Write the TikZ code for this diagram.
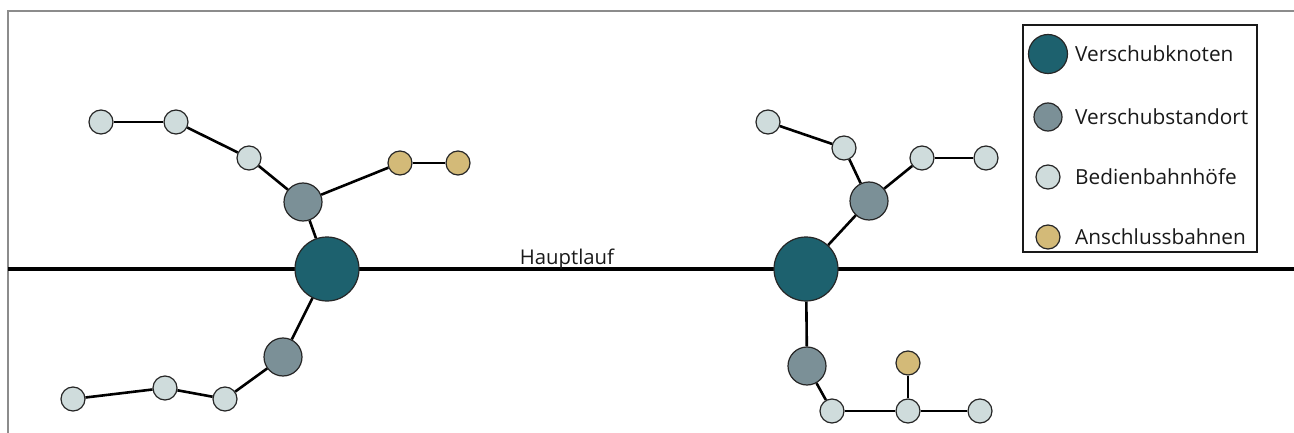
\documentclass[tikz,border=0pt]{standalone}
\usepackage{fontspec}
\setmainfont{Open Sans}
\begin{document}
\begin{tikzpicture}[x=1pt,y=-1pt,
  knoten/.style={circle,draw=black!85,line width=1.2pt,fill=tealk,minimum size=64pt,inner sep=0pt},
  standort/.style={circle,draw=black!85,line width=1.2pt,fill=grayk,minimum size=38pt,inner sep=0pt},
  bedien/.style={circle,draw=black!85,line width=1.2pt,fill=lightk,minimum size=24pt,inner sep=0pt},
  anschluss/.style={circle,draw=black!85,line width=1.2pt,fill=goldk,minimum size=24pt,inner sep=0pt},
  link/.style={line width=2.6pt,black},
  lbl/.style={anchor=west,font=\fontsize{20.8}{24}\selectfont,text=black!90,inner sep=0pt}]
\definecolor{tealk}{HTML}{1D616E}
\definecolor{grayk}{HTML}{7B9097}
\definecolor{lightk}{HTML}{CFDCDC}
\definecolor{goldk}{HTML}{D3BA78}
\useasboundingbox (0,0) rectangle (1294,433);
% frame
\draw[line width=1.8pt,black!45] (1294,11) -- (8,11) -- (8,433);
% main line
\coordinate (hl0) at (8,269);
\coordinate (hl1) at (1294,269);
\draw[line width=3.4pt] (hl0) -- (hl1);
\node[font=\fontsize{20.3}{24}\selectfont,text=black!90,anchor=base] (hauptlauf) at (567,264) {Hauptlauf};

% left cluster
\node[knoten] (k1) at (327,269) {};
\node[standort] (s1a) at (303,202) {};
\node[standort] (s1b) at (283,357) {};
\node[bedien] (b1) at (101,122) {};
\node[bedien] (b2) at (176,122) {};
\node[bedien] (b3) at (249,158) {};
\node[anschluss] (a1) at (400,163) {};
\node[anschluss] (a2) at (458,163) {};
\node[bedien] (b4) at (73,399) {};
\node[bedien] (b5) at (165,388) {};
\node[bedien] (b6) at (225,399) {};

% right cluster
\node[knoten] (k2) at (806,269) {};
\node[standort] (s2a) at (869,201) {};
\node[standort] (s2b) at (807,366) {};
\node[bedien] (c1) at (768,122) {};
\node[bedien] (c2) at (844,148) {};
\node[bedien] (c3) at (922,158) {};
\node[bedien] (c4) at (986,158) {};
\node[bedien] (c5) at (832,411) {};
\node[bedien] (c6) at (908,411) {};
\node[bedien] (c7) at (980,411) {};
\node[anschluss] (a3) at (908,363) {};

% connectors
\draw[link] (k1) -- (s1a);
\draw[link] (s1a) -- (b3);
\draw[link] (b3) -- (b2);
\draw[link] (b2) -- (b1);
\draw[link] (s1a) -- (a1);
\draw[link] (a1) -- (a2);
\draw[link] (k1) -- (s1b);
\draw[link] (s1b) -- (b6);
\draw[link] (b6) -- (b5);
\draw[link] (b5) -- (b4);
\draw[link] (k2) -- (s2a);
\draw[link] (s2a) -- (c2);
\draw[link] (c2) -- (c1);
\draw[link] (s2a) -- (c3);
\draw[link] (c3) -- (c4);
\draw[link] (k2) -- (s2b);
\draw[link] (s2b) -- (c5);
\draw[link] (c5) -- (c6);
\draw[link] (c6) -- (c7);
\draw[link] (c6) -- (a3);

% legend
\node[draw=black!90,line width=1.6pt,minimum width=234pt,minimum height=227pt,inner sep=0pt,fill=white] (legend) at (1140,138.5) {};
\node[knoten,minimum size=39pt] (lk) at (1048,54) {};
\node[standort,minimum size=28pt] (ls) at (1048,117) {};
\node[bedien] (lb) at (1048,177) {};
\node[anschluss] (la) at (1048,237) {};
\node[lbl] (tk) at (1075,54) {Verschubknoten};
\node[lbl] (ts) at (1075,117) {Verschubstandort};
\node[lbl] (tb) at (1075,177) {Bedienbahnhöfe};
\node[lbl] (ta) at (1075,237) {Anschlussbahnen};
\end{tikzpicture}
\end{document}
